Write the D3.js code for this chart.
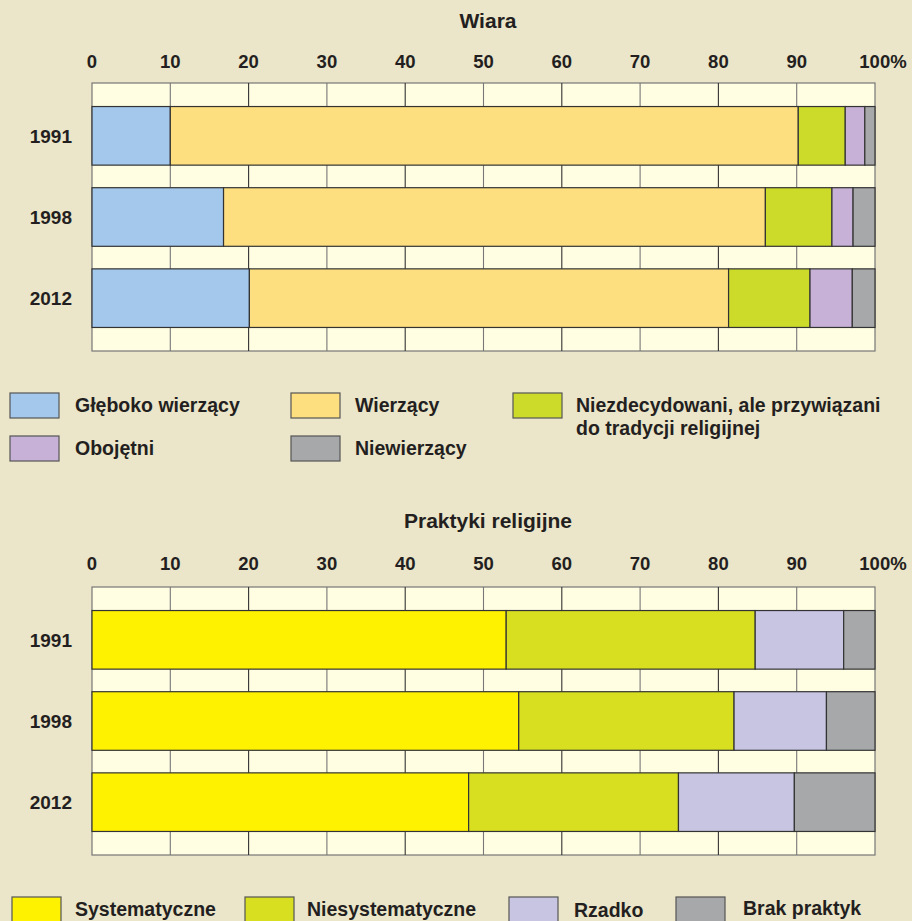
<!DOCTYPE html>
<html>
<head>
<meta charset="utf-8">
<script src="https://cdn.jsdelivr.net/npm/d3@7"></script>
<style>
  html, body { margin: 0; padding: 0; background: #ebe5c9; }
  svg { display: block; }
  text { font-family: "Liberation Sans", Arial, Helvetica, sans-serif; font-weight: bold; fill: #231f20; }
</style>
</head>
<body>
<script>
// ---- Data ----
const years = ["1991", "1998", "2012"];
const tickValues = [0, 10, 20, 30, 40, 50, 60, 70, 80, 90, 100];
const tickLabels = ["0", "10", "20", "30", "40", "50", "60", "70", "80", "90", "100%"];

const beliefCategories = ["Głęboko wierzący", "Wierzący", "Niezdecydowani, ale przywiązani do tradycji religijnej", "Obojętni", "Niewierzący"];
const beliefColors = ["#a3c8ec", "#fddf7f", "#ccdb2a", "#c8b1d7", "#a7a8aa"];
const beliefDeep      = [10.0, 16.8, 20.1];
const beliefBelievers = [80.2, 69.2, 61.2];
const beliefUndecided = [6.0, 8.5, 10.4];
const beliefIndiff    = [2.5, 2.7, 5.4];
const beliefNon       = [1.3, 2.8, 2.9];

const practiceCategories = ["Systematyczne", "Niesystematyczne", "Rzadko", "Brak praktyk"];
const practiceColors = ["#fff200", "#d8df20", "#c7c5e1", "#a7a8aa"];
const practiceSystematic    = [52.9, 54.5, 48.1];
const practiceNonSystematic = [31.8, 27.5, 26.8];
const practiceRarely        = [11.3, 11.8, 14.8];
const practiceNone          = [4.0, 6.2, 10.3];

// ---- Setup ----
const W = 912, H = 921;
const svg = d3.select("body").append("svg").attr("width", W).attr("height", H);
svg.append("rect").attr("width", W).attr("height", H).attr("fill", "#ebe5c9");

const x = d3.scaleLinear().domain([0, 100]).range([92, 875]);

function drawChart(title, top, seriesList, colors, titleY, tickY) {
  const bottom = top + 268;
  const y = d3.scaleBand().domain(years).range([top, bottom])
    .paddingInner(0.278).paddingOuter(0.29);

  svg.append("text").attr("x", 488).attr("y", titleY)
    .attr("text-anchor", "middle").attr("font-size", 21).text(title);

  // tick labels
  svg.append("g").selectAll("text").data(tickValues).join("text")
    .attr("x", d => x(d) + (d === 100 ? 8 : 0)).attr("y", tickY)
    .attr("text-anchor", "middle").attr("font-size", 18.5)
    .text((d, i) => tickLabels[i]);

  // plot frame (cream)
  svg.append("rect").attr("x", x(0)).attr("y", top)
    .attr("width", x(100) - x(0)).attr("height", bottom - top)
    .attr("fill", "#fffde2").attr("stroke", "#777").attr("stroke-width", 1.2);

  // gridlines
  svg.append("g").selectAll("line").data(tickValues.slice(1, -1)).join("line")
    .attr("x1", d => x(d)).attr("x2", d => x(d))
    .attr("y1", top).attr("y2", bottom)
    .attr("stroke", (d, i) => i % 2 ? "#333" : "#777").attr("stroke-width", 1.1);

  // stacked bars
  const stacked = years.map((yr, i) => {
    let acc = 0;
    return seriesList.map((s, k) => {
      const seg = { year: yr, x0: acc, x1: acc + s[i], k: k };
      acc += s[i];
      return seg;
    });
  }).flat();

  svg.append("g").selectAll("rect").data(stacked).join("rect")
    .attr("x", d => x(d.x0)).attr("width", d => x(Math.min(100, d.x1)) - x(d.x0))
    .attr("y", d => y(d.year)).attr("height", y.bandwidth())
    .attr("fill", d => colors[d.k])
    .attr("stroke", "#333").attr("stroke-width", 1.2);

  // year labels
  svg.append("g").selectAll("text").data(years).join("text")
    .attr("x", 72).attr("y", d => y(d) + y.bandwidth() / 2)
    .attr("dy", "0.36em").attr("text-anchor", "end").attr("font-size", 19)
    .text(d => d);
}

drawChart("Wiara", 83,
  [beliefDeep, beliefBelievers, beliefUndecided, beliefIndiff, beliefNon],
  beliefColors, 28, 68);

drawChart("Praktyki religijne", 587,
  [practiceSystematic, practiceNonSystematic, practiceRarely, practiceNone],
  practiceColors, 528, 570);

// ---- Legends ----
function legendItem(bx, by, color, lines, tx, ty) {
  svg.append("rect").attr("x", bx).attr("y", by).attr("width", 49).attr("height", 25)
    .attr("fill", color).attr("stroke", "#555").attr("stroke-width", 1.2);
  const t = svg.append("text").attr("x", tx).attr("y", ty).attr("font-size", 19.5);
  lines.forEach((ln, i) => {
    t.append("tspan").attr("x", tx).attr("dy", i === 0 ? 0 : 23).text(ln);
  });
}

legendItem(10, 393, beliefColors[0], [beliefCategories[0]], 75, 412);
legendItem(291, 393, beliefColors[1], [beliefCategories[1]], 355, 412);
legendItem(513, 393, beliefColors[2], ["Niezdecydowani, ale przywiązani", "do tradycji religijnej"], 576, 412);
legendItem(10, 436, beliefColors[3], [beliefCategories[3]], 75, 455);
legendItem(291, 436, beliefColors[4], [beliefCategories[4]], 355, 455);

legendItem(12, 897, practiceColors[0], [practiceCategories[0]], 75, 916);
legendItem(245, 897, practiceColors[1], [practiceCategories[1]], 307, 916);
legendItem(509, 897, practiceColors[2], [practiceCategories[2]], 574, 917);
legendItem(676, 897, practiceColors[3], [practiceCategories[3]], 743, 915);
</script>
</body>
</html>
